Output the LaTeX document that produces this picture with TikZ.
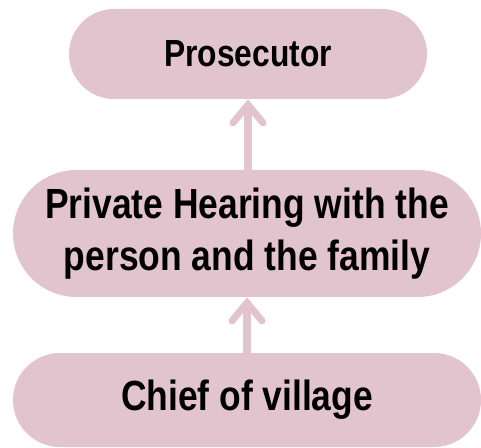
\documentclass[tikz,border=0pt]{standalone}
\usepackage{fontspec}
\setmainfont[FakeStretch=0.84]{Liberation Sans}
\usetikzlibrary{arrows.meta,positioning}
\definecolor{pinkbox}{RGB}{226,196,206}

\begin{document}
\begin{tikzpicture}[
    stage/.style={fill=pinkbox,rounded corners=#1,align=center,inner sep=0pt,
        font=\bfseries\fontsize{24}{30}\selectfont},
    link/.style={pinkbox,line width=4pt,line cap=round,
        -{Straight Barb[length=0.36cm,width=0.6cm,line cap=round]}}]

        \useasboundingbox (0,0) rectangle (9.62,-8.96);

        \node[stage=0.9cm,minimum width=7.16cm,minimum height=1.8cm,
            font=\bfseries\fontsize{21.5}{26}\selectfont] (pros) at (4.96,-1.08) {Prosecutor};
        \node[stage=1.27cm,minimum width=9.36cm,minimum height=2.54cm] (hear) at (4.94,-4.67)
            {Private Hearing with the\\person and the family};
        \node[stage=0.94cm,minimum width=9.36cm,minimum height=1.88cm] (chief) at (4.94,-8.0)
            {Chief of village};

        \draw[link] (hear.north -| pros.south) -- (pros.south);
        \draw[link] (chief.north -| hear.south) -- (hear.south);

\end{tikzpicture}
\end{document}
